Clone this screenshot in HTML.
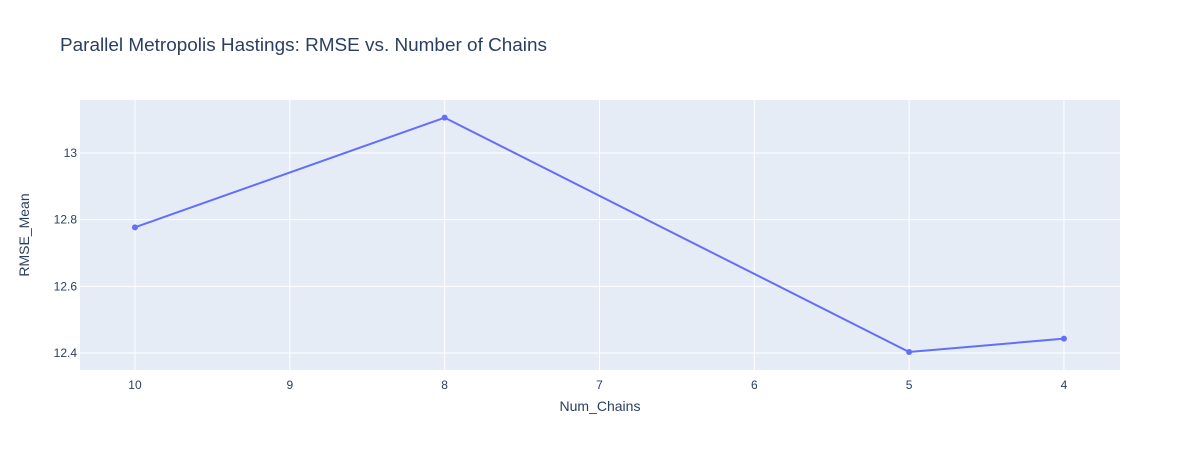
<!DOCTYPE html>
<html><head><meta charset="utf-8"><style>
body{margin:0;background:#fff;}
svg{display:block;font-family:"Liberation Sans",Arial,sans-serif;}
</style></head><body>
<svg id="chart" width="1200" height="450">
<text x="60" y="51" font-size="18" textLength="487" lengthAdjust="spacingAndGlyphs" fill="#2a3f5f">Parallel Metropolis Hastings: RMSE vs. Number of Chains</text>
<rect x="80" y="100" width="1040" height="270" fill="#e5ecf6"/>
<g id="grid"></g>
<g id="marks"></g>
<text x="600" y="411" font-size="14" fill="#2a3f5f" text-anchor="middle">Num_Chains</text>
<text transform="translate(29,235) rotate(-90)" font-size="14" fill="#2a3f5f" text-anchor="middle">RMSE_Mean</text>
</svg>
<script>
const categories=[10,8,5,4];
const rmseValues=[12.777,13.106,12.403,12.443];
const xTicks=[10,9,8,7,6,5,4];
const yTicks=[12.4,12.6,12.8,13];
const yTickLabels=["12.4","12.6","12.8","13"];
const NS="http://www.w3.org/2000/svg";
const L=80,R=1120,T=100,B=370;
const xMin=10.355,xMax=3.638,yMin=12.349,yMax=13.159;
function sx(v){return L+(v-xMin)/(xMax-xMin)*(R-L);}
function sy(v){return B-(v-yMin)/(yMax-yMin)*(B-T);}
function mk(tag,attrs,parent){const e=document.createElementNS(NS,tag);for(const k in attrs)e.setAttribute(k,attrs[k]);parent.appendChild(e);return e;}
const grid=document.getElementById('grid'),marks=document.getElementById('marks');
xTicks.forEach(t=>{
 const l=mk('line',{x1:sx(t),x2:sx(t),y1:T,y2:B,stroke:'#fff','stroke-width':1},grid);
 
 
 const tx=mk('text',{x:sx(t),y:B+19,'font-size':12,fill:'#2a3f5f','text-anchor':'middle'},grid);
 tx.textContent=t;
 
 
});
yTicks.forEach((t,i)=>{
 const l=mk('line',{x1:L,x2:R,y1:sy(t),y2:sy(t),stroke:'#fff','stroke-width':1},grid);
 
 
 const tx=mk('text',{x:L-3,y:sy(t)+4,'font-size':12,fill:'#2a3f5f','text-anchor':'end'},grid);
 tx.textContent=yTickLabels[i];
 
 
});
const pts=categories.map((c,i)=>sx(c)+','+sy(rmseValues[i])).join(' ');
const pl=mk('polyline',{points:pts,fill:'none',stroke:'#636efa','stroke-width':2},marks);


categories.forEach((c,i)=>{
 const p=mk('circle',{cx:sx(c),cy:sy(rmseValues[i]),r:3,fill:'#636efa'},marks);
 
 
});
</script>
</body></html>
